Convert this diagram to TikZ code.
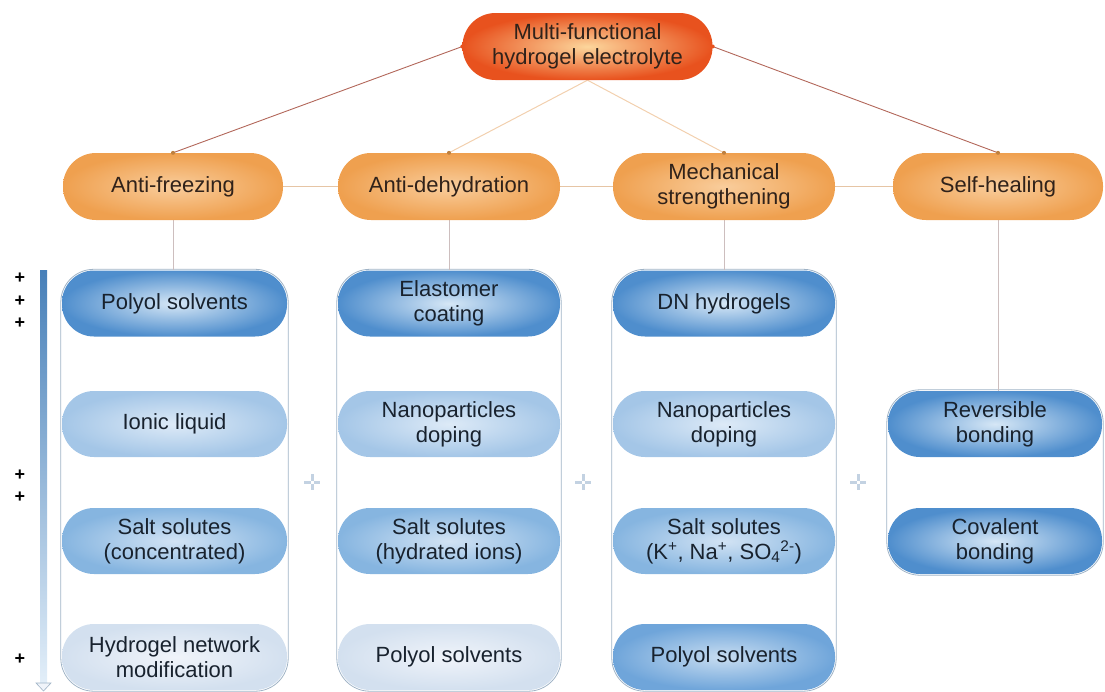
\documentclass[tikz,border=0pt]{standalone}
\usepackage{fontspec}
\setmainfont{Liberation Sans}
\usetikzlibrary{fit,backgrounds}
\definecolor{topin}{HTML}{FCD69C}
\definecolor{topout}{HTML}{E8521E}
\definecolor{orin}{HTML}{F9CD9C}
\definecolor{orout}{HTML}{EFA04F}
\definecolor{bdkin}{HTML}{D6E7F6}
\definecolor{bdkout}{HTML}{4F8ECD}
\definecolor{bmdin}{HTML}{D2E3F4}
\definecolor{bmdout}{HTML}{86B5E0}
\definecolor{bltin}{HTML}{DDEAF7}
\definecolor{bltout}{HTML}{A4C6E7}
\definecolor{bvlin}{HTML}{F0F4FA}
\definecolor{bvlout}{HTML}{D3E0EF}
\definecolor{bstrin}{HTML}{C8DDF1}
\definecolor{bstrout}{HTML}{6FA5DA}
\definecolor{boxline}{HTML}{9FB3C6}
\definecolor{redline}{HTML}{B2675A}
\definecolor{peachline}{HTML}{F2D0AE}
\definecolor{hline}{HTML}{E6C5A5}
\definecolor{vline}{HTML}{CDBEBE}
\definecolor{bluetext}{HTML}{18222E}
\definecolor{ortext}{HTML}{30221A}
\definecolor{pluscol}{HTML}{C3D2E2}
\begin{document}
\begin{tikzpicture}[x=1pt,y=-1pt,
  txt/.style={align=center,font=\fontsize{22}{25}\selectfont,inner sep=0pt},
  toppill/.style={txt,rounded corners=33pt,minimum width=250pt,minimum height=67pt,
    shading=radial,inner color=topin,outer color=topout,text=ortext},
  orpill/.style={txt,rounded corners=33pt,minimum height=67pt,
    shading=radial,inner color=orin,outer color=orout,text=ortext},
  bpill/.style={txt,rounded corners=32pt,minimum height=66pt,text=bluetext,shading=radial},
  dk/.style={bpill,inner color=bdkin,outer color=bdkout},
  md/.style={bpill,inner color=bmdin,outer color=bmdout},
  lt/.style={bpill,inner color=bltin,outer color=bltout},
  vl/.style={bpill,inner color=bvlin,outer color=bvlout},
  strong/.style={bpill,inner color=bstrin,outer color=bstrout},
  groupbox/.style={draw=boxline,line width=0.8pt,rounded corners=33pt,inner sep=1pt},
  redconn/.style={draw=redline,line width=0.9pt},
  peachconn/.style={draw=peachline,line width=1pt},
  hconn/.style={draw=hline,line width=1.2pt},
  vconn/.style={draw=vline,line width=1pt},
  enddot/.style={circle,fill=#1,inner sep=0pt,minimum size=4pt},
  blackplus/.style={font=\fontsize{18}{18}\selectfont\bfseries,inner sep=0pt},
]
\useasboundingbox (0,0) rectangle (1105,691);

% top node
\node[toppill] (top) at (587.5,46.5) {Multi-functional\\hydrogel electrolyte};

% second row
\node[orpill,minimum width=220pt] (af) at (173,186.5) {Anti-freezing};
\node[orpill,minimum width=222pt] (ad) at (449,186.5) {Anti-dehydration};
\node[orpill,minimum width=222pt] (ms) at (724,186.5) {Mechanical\\strengthening};
\node[orpill,minimum width=210pt] (sh) at (998,186.5) {Self-healing};

% group 1
\node[dk,minimum width=225pt] (p11) at (174.5,303.5) {Polyol solvents};
\node[lt,minimum width=225pt] (p12) at (174.5,424) {Ionic liquid};
\node[md,minimum width=225pt] (p13) at (174.5,541) {Salt solutes\\(concentrated)};
\node[vl,minimum width=225pt] (p14) at (174.5,657) {Hydrogel network\\modification};
% group 2
\node[dk,minimum width=222pt] (p21) at (449,303.5) {Elastomer\\coating};
\node[lt,minimum width=222pt] (p22) at (449,424) {Nanoparticles\\doping};
\node[md,minimum width=222pt] (p23) at (449,541) {Salt solutes\\(hydrated ions)};
\node[vl,minimum width=222pt] (p24) at (449,657) {Polyol solvents};
% group 3
\node[dk,minimum width=222pt] (p31) at (724,303.5) {DN hydrogels};
\node[lt,minimum width=222pt] (p32) at (724,424) {Nanoparticles\\doping};
\node[md,minimum width=222pt] (p33) at (724,541) {Salt solutes\\(K\textsuperscript{+}, Na\textsuperscript{+}, SO\textsubscript{4}\textsuperscript{2-})};
\node[strong,minimum width=222pt] (p34) at (724,657) {Polyol solvents};
% group 4
\node[dk,minimum width=214pt] (p41) at (995,424) {Reversible\\bonding};
\node[dk,minimum width=214pt] (p42) at (995,541) {Covalent\\bonding};

% group boxes
\begin{scope}[on background layer]
\node[groupbox,fit=(p11)(p14)] (g1) {};
\node[groupbox,fit=(p21)(p24)] (g2) {};
\node[groupbox,fit=(p31)(p34)] (g3) {};
\node[groupbox,fit=(p41)(p42)] (g4) {};
\end{scope}

% connectors from top
\begin{scope}[on background layer]
\draw[redconn] (top.west) -- (af.north);
\draw[redconn] (top.east) -- (sh.north);
\draw[peachconn] (top.south) -- (ad.north);
\draw[peachconn] (top.south) -- (ms.north);
\draw[hconn] (af.east) -- (ad.west);
\draw[hconn] (ad.east) -- (ms.west);
\draw[hconn] (ms.east) -- (sh.west);
\draw[vconn] (af.south) -- (af.south |- p11.north);
\draw[vconn] (ad.south) -- (ad.south |- p21.north);
\draw[vconn] (ms.south) -- (ms.south |- p31.north);
\draw[vconn] (sh.south) -- (sh.south |- p41.north);
\end{scope}
\node[enddot=topout] at (top.west) {};
\node[enddot=topout] at (top.east) {};
\node[enddot=orout!80!black] at (af.north) {};
\node[enddot=orout!80!black] at (sh.north) {};
\node[enddot=orout!80!black] at (ad.north) {};
\node[enddot=orout!80!black] at (ms.north) {};

% left arrow
\coordinate (arrtop) at (43.5,270);
\coordinate (arrbot) at (43.5,683);
\shade[top color=bdkout!90!black,bottom color=bdkin!70!white] (40,270) rectangle (47,683);
\draw[boxline,fill=bvlin,line width=0.6pt] (36,683) -- (51,683) -- (43.5,691) -- cycle;

% black pluses
\foreach \yy in {278,301,323,475,497,659}
  \node[blackplus] at (20,\yy) {+};

% light pluses between groups
\foreach \xx in {312,583,858}{
  \draw[pluscol,line width=3pt] (\xx-8,482) -- (\xx-1.5,482) (\xx+1.5,482) -- (\xx+8,482)
     (\xx,474) -- (\xx,480.5) (\xx,483.5) -- (\xx,490);
}
\end{tikzpicture}
\end{document}
